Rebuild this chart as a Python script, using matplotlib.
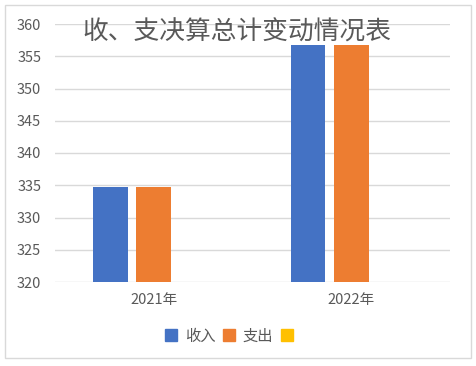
import matplotlib.pyplot as plt
from matplotlib.patches import Rectangle, Patch
import numpy as np

plt.rcParams['font.family'] = ['Noto Sans CJK SC', 'DejaVu Sans']

categories = ['2021年', '2022年']
income = [334.7, 356.7]
expense = [334.7, 356.7]
other = [np.nan, np.nan]
series_names = ['收入', '支出', '']
colors = ['#4472C4', '#ED7D31', '#FFC000']

fig = plt.figure(figsize=(4.76, 3.66), dpi=100)
ax = fig.add_axes([55 / 476, 1 - 282 / 366, 395 / 476, 258 / 366])

x = np.arange(len(categories))
base = 320
for i, vals in enumerate([income, expense, other]):
    v = np.array(vals, dtype=float)
    ax.bar(x + (i - 1) * 0.22, v - base, bottom=base, width=0.175,
           color=colors[i], zorder=3)

ax.set_xlim(-0.5, 1.5)
ax.set_ylim(320, 360)
ax.set_yticks(range(320, 361, 5))
ax.set_xticks(x)
ax.set_xticklabels(categories)
ax.grid(axis='y', color='#D9D9D9', linewidth=1, zorder=0)
for s in ax.spines.values():
    s.set_visible(False)
ax.tick_params(length=0, colors='#595959', labelsize=10.5)
ax.tick_params(axis='x', pad=8)
ax.tick_params(axis='y', pad=10)

fig.text(237 / 476, 1 - 33 / 366, '收、支决算总计变动情况表', ha='center', va='center',
         fontsize=18.5, color='#595959')

handles = [Patch(color=c) for c in colors]
fig.legend(handles, series_names, loc='center', bbox_to_anchor=(233 / 476, 1 - 336 / 366),
           ncol=3, frameon=False, fontsize=11, handlelength=0.8, handleheight=0.8,
           handletextpad=0.5, columnspacing=0.5, labelcolor='#595959')

fig.patches.append(Rectangle((5 / 476, 1 - 358 / 366), 466 / 476, 353 / 366,
                             transform=fig.transFigure, fill=False,
                             edgecolor='#D9D9D9', linewidth=1))

fig.savefig('out.png', dpi=100)
